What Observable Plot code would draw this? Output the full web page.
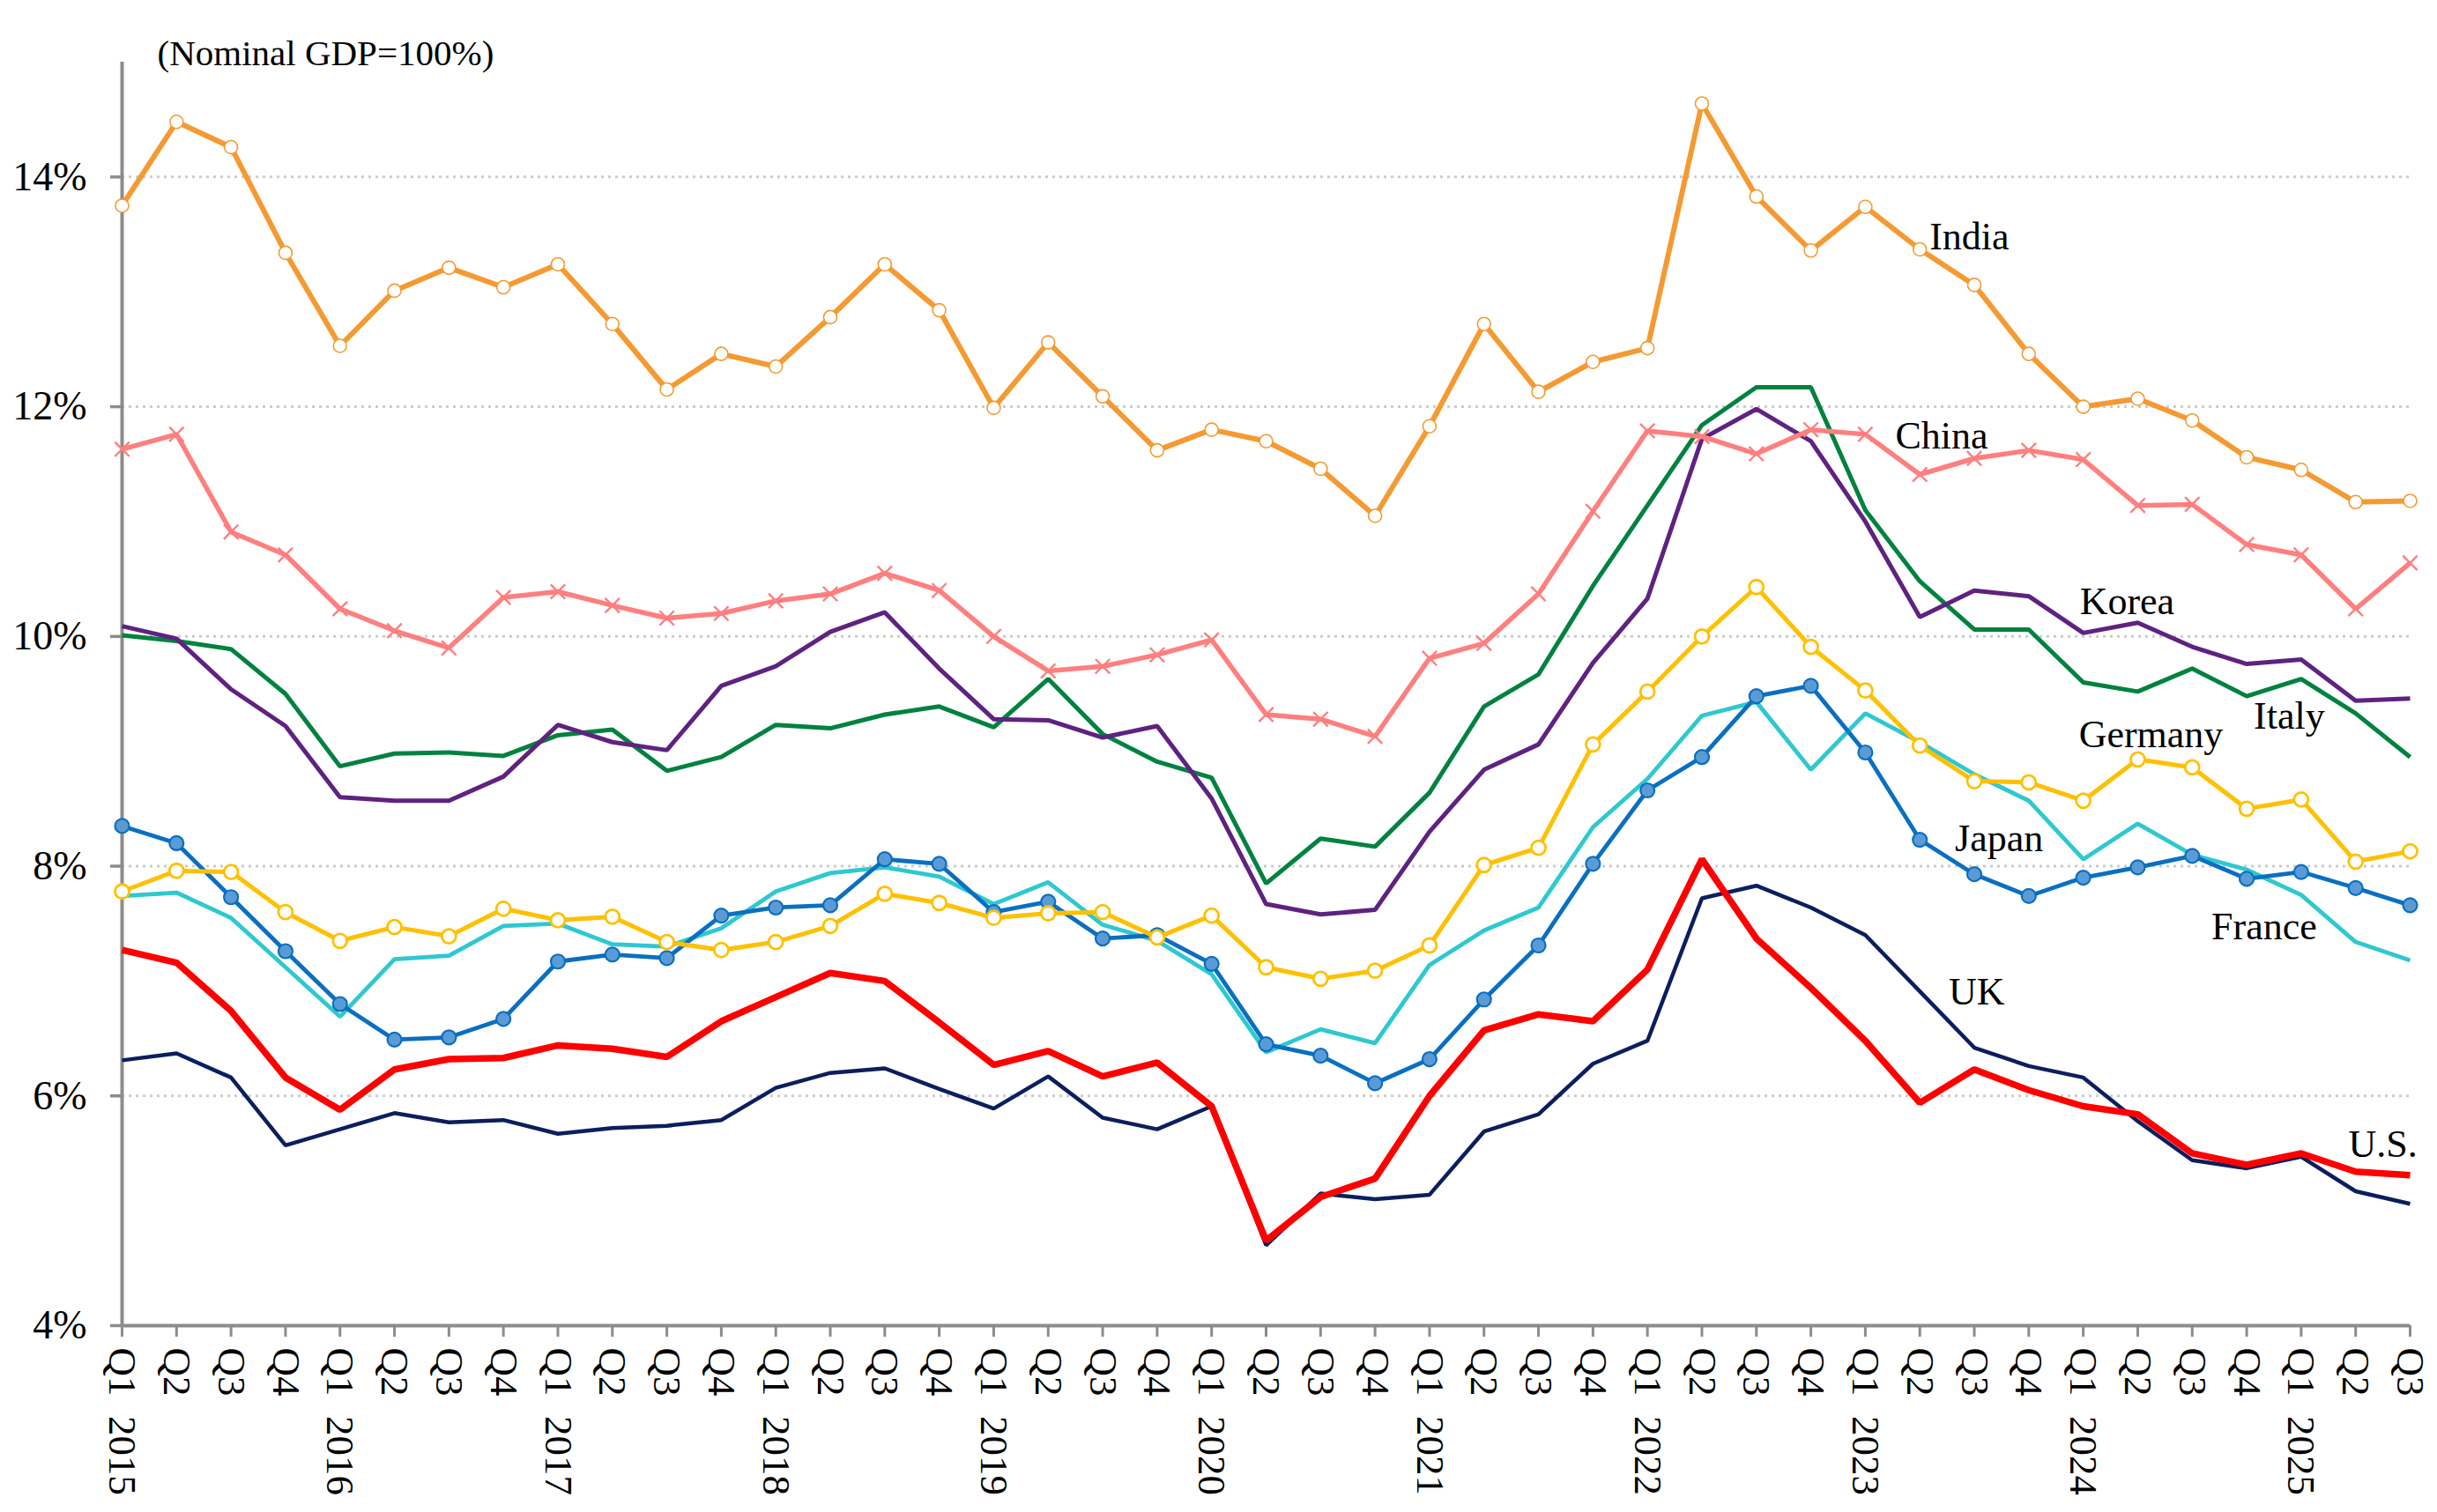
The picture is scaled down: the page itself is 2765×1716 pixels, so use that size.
<!DOCTYPE html>
<html>
<head>
<meta charset="utf-8">
<script src="https://cdn.jsdelivr.net/npm/d3@7"></script>
<script src="https://cdn.jsdelivr.net/npm/@observablehq/plot@0.6"></script>
<style>
html, body { margin: 0; padding: 0; background: #ffffff; overflow: hidden; }
</style>
</head>
<body>
<div id="chart"></div>
<script>
// ---------- data ----------
const quarterLabels = [
  "Q1\u00a0\u00a02015","Q2","Q3","Q4",
  "Q1\u00a0\u00a02016","Q2","Q3","Q4",
  "Q1\u00a0\u00a02017","Q2","Q3","Q4",
  "Q1\u00a0\u00a02018","Q2","Q3","Q4",
  "Q1\u00a0\u00a02019","Q2","Q3","Q4",
  "Q1\u00a0\u00a02020","Q2","Q3","Q4",
  "Q1\u00a0\u00a02021","Q2","Q3","Q4",
  "Q1\u00a0\u00a02022","Q2","Q3","Q4",
  "Q1\u00a0\u00a02023","Q2","Q3","Q4",
  "Q1\u00a0\u00a02024","Q2","Q3","Q4",
  "Q1\u00a0\u00a02025","Q2","Q3"
];
const yTicks = [4, 6, 8, 10, 12, 14];
const subtitle = "(Nominal GDP=100%)";

const india = [13.75,14.48,14.26,13.34,12.53,13.01,13.21,13.04,13.24,12.72,12.15,12.46,12.35,12.78,13.24,12.84,11.99,12.56,12.09,11.62,11.80,11.70,11.46,11.05,11.83,12.72,12.13,12.39,12.51,14.64,13.83,13.36,13.74,13.37,13.06,12.46,12.00,12.07,11.88,11.56,11.45,11.17,11.18];
const china = [11.63,11.76,10.91,10.71,10.24,10.05,9.90,10.34,10.39,10.27,10.16,10.20,10.31,10.37,10.55,10.40,10.00,9.70,9.74,9.84,9.97,9.32,9.28,9.13,9.81,9.94,10.37,11.09,11.79,11.74,11.59,11.80,11.76,11.41,11.55,11.62,11.54,11.14,11.15,10.80,10.71,10.24,10.64];
const korea = [10.09,9.98,9.54,9.22,8.60,8.57,8.57,8.78,9.23,9.08,9.01,9.57,9.74,10.04,10.21,9.72,9.28,9.27,9.12,9.22,8.59,7.67,7.58,7.62,8.30,8.84,9.06,9.77,10.33,11.72,11.98,11.70,11.00,10.17,10.40,10.35,10.03,10.12,9.91,9.76,9.80,9.44,9.46];
const italy = [10.01,9.96,9.89,9.50,8.87,8.98,8.99,8.96,9.14,9.19,8.83,8.95,9.23,9.20,9.32,9.39,9.21,9.63,9.15,8.91,8.77,7.85,8.24,8.17,8.64,9.39,9.67,10.44,11.14,11.84,12.17,12.17,11.10,10.48,10.06,10.06,9.60,9.52,9.72,9.48,9.63,9.33,8.95];
const germany = [7.78,7.96,7.95,7.60,7.35,7.47,7.39,7.63,7.53,7.56,7.34,7.27,7.34,7.48,7.76,7.68,7.55,7.59,7.60,7.38,7.57,7.12,7.02,7.09,7.31,8.01,8.16,9.06,9.52,10.00,10.43,9.91,9.53,9.05,8.74,8.73,8.57,8.93,8.86,8.50,8.58,8.04,8.13];
const japan = [8.35,8.20,7.73,7.26,6.80,6.49,6.51,6.67,7.17,7.23,7.20,7.57,7.64,7.66,8.06,8.02,7.60,7.69,7.37,7.40,7.15,6.45,6.35,6.11,6.32,6.84,7.31,8.02,8.66,8.95,9.48,9.57,8.99,8.23,7.93,7.74,7.90,7.99,8.09,7.89,7.95,7.81,7.66];
const france = [7.74,7.77,7.55,7.12,6.69,7.19,7.22,7.48,7.50,7.32,7.30,7.46,7.78,7.94,7.99,7.91,7.67,7.86,7.49,7.35,7.06,6.38,6.58,6.46,7.14,7.44,7.64,8.34,8.76,9.31,9.43,8.84,9.33,9.08,8.80,8.57,8.06,8.37,8.10,7.97,7.75,7.34,7.18];
const uk = [6.31,6.37,6.16,5.57,5.71,5.85,5.77,5.79,5.67,5.72,5.74,5.79,6.07,6.20,6.24,6.06,5.89,6.17,5.81,5.71,5.91,4.70,5.15,5.10,5.14,5.69,5.84,6.28,6.48,7.72,7.83,7.64,7.40,6.91,6.42,6.26,6.16,5.78,5.44,5.37,5.47,5.17,5.06];
const us = [7.27,7.16,6.74,6.16,5.88,6.23,6.32,6.33,6.44,6.41,6.34,6.65,6.86,7.07,7.00,6.64,6.27,6.39,6.17,6.29,5.91,4.74,5.12,5.28,6.00,6.57,6.71,6.65,7.10,8.06,7.37,6.94,6.48,5.94,6.23,6.05,5.91,5.84,5.50,5.40,5.50,5.34,5.31];

// ---------- styles (drawing order: first drawn at bottom) ----------
const series = [
  {name: "UK",      values: uk,      color: "#0B1F5E", width: 4.5},
  {name: "U.S.",    values: us,      color: "#FF0000", width: 7.5},
  {name: "France",  values: france,  color: "#2EC8D0", width: 4.8},
  {name: "Japan",   values: japan,   color: "#0A6FC0", width: 4.8, marker: {symbol: "circle", fill: "#5B9BD5", stroke: "#0A6FC0", r: 8, sw: 2.2}},
  {name: "Germany", values: germany, color: "#FFC000", width: 5, marker: {symbol: "circle", fill: "#ffffff", stroke: "#FFC000", r: 8, sw: 2.8}},
  {name: "Italy",   values: italy,   color: "#00823F", width: 5},
  {name: "Korea",   values: korea,   color: "#5F2280", width: 5},
  {name: "China",   values: china,   color: "#FF7F7F", width: 5.5, marker: {symbol: "times", fill: "none", stroke: "#FF7F7F", r: 7.5, sw: 2.4}},
  {name: "India",   values: india,   color: "#F59A32", width: 6, marker: {symbol: "circle", fill: "#ffffff", stroke: "#F59A32", r: 7.5, sw: 1.6}}
];

// label anchor: series point index + pixel offset
const labelSpecs = [
  {name: "India",   at: 33, dx: 11,  dy: -14},
  {name: "China",   at: 32, dx: 34,  dy: 2},
  {name: "Korea",   at: 36, dx: -4,  dy: -36},
  {name: "Italy",   at: 39, dx: 8,   dy: 23},
  {name: "Germany", at: 36, dx: -5,  dy: -75},
  {name: "Japan",   at: 34, dx: -22, dy: -40},
  {name: "France",  at: 39, dx: -40, dy: 65},
  {name: "UK",      at: 34, dx: -29, dy: -63},
  {name: "U.S.",    at: 42, dx: -70, dy: -35}
];

const FONT = "'Liberation Serif', 'Times New Roman', 'DejaVu Serif', serif";
const AXIS_GRAY = "#8c8c8c";
const lastIdx = quarterLabels.length - 1;

const marks = [];
// gridlines
marks.push(Plot.ruleY(yTicks.filter(d => d > 4), {x1: 0, x2: lastIdx, stroke: "#cccccc", strokeWidth: 3, strokeDasharray: "3,5"}));
// axes
marks.push(Plot.axisY({ticks: yTicks, tickFormat: d => d + "%", tickSize: 13, tickPadding: 27, fontSize: 46, stroke: AXIS_GRAY, strokeWidth: 3.5, label: null}));
marks.push(Plot.axisX({ticks: d3.range(quarterLabels.length), tickFormat: i => quarterLabels[i], tickRotate: 90, tickSize: 13, tickPadding: 12, fontSize: 45, stroke: AXIS_GRAY, strokeWidth: 3, label: null}));
marks.push(Plot.ruleX([0], {y1: 4, y2: 15, stroke: AXIS_GRAY, strokeWidth: 4}));
marks.push(Plot.ruleY([4], {x1: 0, x2: lastIdx, stroke: AXIS_GRAY, strokeWidth: 4}));

// series
for (const s of series) {
  const rows = s.values.map((v, i) => ({i, v}));
  marks.push(Plot.line(rows, {x: "i", y: "v", stroke: s.color, strokeWidth: s.width, strokeLinejoin: "miter", strokeLinecap: "butt"}));
  if (s.marker) {
    const m = s.marker;
    marks.push(Plot.dot(rows, {x: "i", y: "v", symbol: m.symbol, r: m.r, fill: m.fill, stroke: m.stroke, strokeWidth: m.sw}));
  }
}

// series labels
const byName = Object.fromEntries(series.map(s => [s.name, s.values]));
for (const l of labelSpecs) {
  marks.push(Plot.text([l], {x: d => d.at, y: d => byName[d.name][d.at], text: "name", dx: l.dx, dy: l.dy, textAnchor: "start", lineAnchor: "middle", fontSize: 44, fill: "#000"}));
}

// unit note
marks.push(Plot.text([subtitle], {frameAnchor: "top-left", dx: 40, dy: -10, textAnchor: "start", lineAnchor: "middle", fontSize: 41, fill: "#000"}));

const chart = Plot.plot({
  width: 2765,
  height: 1716,
  marginLeft: 138,
  marginRight: 31,
  marginTop: 70,
  marginBottom: 212,
  x: {type: "linear", domain: [0, lastIdx]},
  y: {domain: [4, 15]},
  style: {fontFamily: FONT, color: "#000", background: "#fff", overflow: "visible"},
  marks
});
document.getElementById("chart").appendChild(chart);
</script>
</body>
</html>
